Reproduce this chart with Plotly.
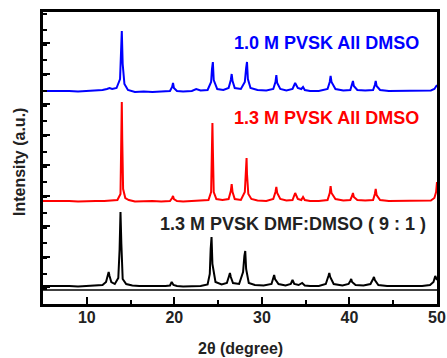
import plotly.graph_objects as go

# ---- data, y values are stacked intensities (a.u.) ----
blue_x = [5, 6, 7, 8, 9, 10, 11, 11.8, 12.3, 12.6, 12.9, 13.4, 13.8, 13.9, 14.0, 14.1, 14.3, 14.7,
          15.5, 16.5, 17.5, 18.5, 19.5, 19.75, 19.85, 19.95, 20.3, 21, 22, 22.5, 23, 23.8, 24.2,
          24.3, 24.4, 24.5, 24.9, 25.6, 26.2, 26.45, 26.55, 26.65, 26.9, 27.6, 28.05, 28.2, 28.3,
          28.4, 28.7, 29.5, 30.5, 31.3, 31.55, 31.65, 31.75, 32.1, 32.8, 33.5, 33.8, 34.1, 34.5,
          34.7, 34.9, 35.5, 36.5, 37.5, 37.75, 37.85, 37.95, 38.4, 39.3, 40.1, 40.3, 40.4, 40.5,
          40.9, 41.8, 42.7, 42.9, 43.0, 43.1, 43.5, 44.5, 45.5, 46.5, 47.5, 48.5, 49.3, 49.7, 50]
blue_y = [213, 213, 213.5, 213, 212.5, 213, 213, 214, 215, 216, 215, 216, 225, 245, 273, 240, 220, 214,
          212, 212.5, 212, 212.5, 213, 217, 221, 216, 213, 212.5, 213, 215, 213.5, 214, 222,
          235, 242, 224, 215, 214, 216, 224, 230, 223, 216, 215, 222, 236, 242,
          225, 216, 214, 213.5, 215, 222, 229, 221, 215, 213.5, 215, 221, 216, 215,
          217, 214, 213, 213, 215, 222, 228, 222, 215, 213.5, 214, 219, 223, 218,
          214, 213.5, 214, 219, 223, 218, 214, 213, 213, 213, 213.5, 213, 213.5, 215, 219]

red_x = [5, 6, 7, 8, 9, 10, 11, 12, 12.8, 13.5, 13.85, 13.95, 14.0, 14.05, 14.15, 14.4, 14.8,
         15.5, 16.5, 17.5, 18.5, 19.5, 19.75, 19.85, 19.95, 20.3, 21, 22, 23, 23.9, 24.2, 24.3,
         24.35, 24.4, 24.5, 24.8, 25.5, 26.2, 26.45, 26.55, 26.65, 26.9, 27.6, 28.05, 28.2, 28.25,
         28.3, 28.45, 28.8, 29.5, 30.5, 31.3, 31.55, 31.65, 31.75, 32.1, 32.8, 33.5, 33.8, 34.1,
         34.5, 34.7, 34.9, 35.5, 36.5, 37.5, 37.75, 37.85, 37.95, 38.4, 39.3, 40.1, 40.3, 40.4,
         40.5, 40.9, 41.8, 42.7, 42.9, 43.0, 43.1, 43.5, 44.5, 45.5, 46.5, 47.5, 48.5, 49.3,
         49.7, 49.9, 50]
red_y = [103, 103, 103.5, 103, 102.5, 103, 103, 103, 103.5, 104, 110, 160, 202, 165, 115, 106, 104,
         102.5, 103, 103, 102.5, 103, 106, 108, 105, 103, 102.5, 103, 103, 104, 112, 150,
         181, 155, 112, 105, 104, 105, 113, 120, 112, 105, 104, 112, 135, 146,
         130, 110, 105, 103.5, 103, 105, 112, 117, 111, 105, 103.5, 104, 111, 105,
         104, 107, 104, 103, 103, 104, 111, 118, 111, 105, 103.5, 104, 108, 111,
         107, 104, 103.5, 104, 110, 115, 109, 104, 103, 103, 103, 103, 103, 103.5,
         106, 112, 122]

black_x = [5, 6, 7, 8, 9, 10, 11, 11.8, 12.2, 12.4, 12.5, 12.6, 12.8, 13.2, 13.6, 13.75, 13.85,
           13.95, 14.1, 14.5, 15.2, 16, 17, 18, 19, 19.5, 19.7, 19.9, 20.3, 21, 22, 23, 23.8,
           24.05, 24.15, 24.25, 24.35, 24.7, 25.4, 26.0, 26.25, 26.35, 26.45, 26.7, 27.4, 27.85,
           28.0, 28.1, 28.2, 28.5, 29.2, 30.2, 31.1, 31.3, 31.4, 31.5, 31.9, 32.7, 33.3, 33.5,
           33.7, 34.2, 34.6, 34.9, 35.5, 36.5, 37.3, 37.6, 37.7, 37.8, 38.2, 39.2, 39.9, 40.1,
           40.2, 40.3, 40.7, 41.6, 42.4, 42.7, 42.8, 42.9, 43.3, 44.3, 45.3, 46.3, 47.3, 48.3,
           49.2, 49.6, 49.8, 50]
black_y = [18, 18, 18.5, 18, 17.5, 18, 18, 19, 22, 28, 32, 28, 22, 20, 26, 55, 92,
           60, 25, 20, 18.5, 18, 18, 17.5, 18, 18.5, 22, 19, 18, 17.5, 18, 18, 19.5,
           30, 55, 67, 40, 22, 19.5, 21, 28, 31, 27, 21, 20, 32,
           48, 53, 35, 21, 19, 18.5, 20, 27, 29, 25, 20, 18.5, 20, 24,
           20, 19, 21, 18.5, 18, 18, 20, 28, 31, 27, 20, 18.5, 20, 23,
           25, 22, 19, 18.5, 20, 25, 27, 24, 19, 18, 18, 18.5, 18, 18,
           19, 22, 28, 24]

divider_y = [14, 14]
x_range = [5, 50]

fig = go.Figure()
fig.add_trace(go.Scatter(x=x_range, y=divider_y, mode="lines",
                         line=dict(color="black", width=1.5), showlegend=False, hoverinfo="skip"))
fig.add_trace(go.Scatter(x=black_x, y=black_y, mode="lines",
                         line=dict(color="black", width=2), showlegend=False))
fig.add_trace(go.Scatter(x=red_x, y=red_y, mode="lines",
                         line=dict(color="#ff0000", width=2), showlegend=False))
fig.add_trace(go.Scatter(x=blue_x, y=blue_y, mode="lines",
                         line=dict(color="#0000ff", width=2), showlegend=False))

font_family = "Liberation Sans, Arial, sans-serif"

fig.add_annotation(x=37.4, y=261, text="<b>1.0 M PVSK All DMSO</b>", showarrow=False,
                   font=dict(family=font_family, size=18, color="#0000ff"))
fig.add_annotation(x=37.4, y=186, text="<b>1.3 M PVSK All DMSO</b>", showarrow=False,
                   font=dict(family=font_family, size=18, color="#ff0000"))
fig.add_annotation(x=33.5, y=80, text="<b>1.3 M PVSK DMF:DMSO ( 9 : 1 )</b>", showarrow=False,
                   font=dict(family=font_family, size=18, color="#222222"))

fig.add_annotation(xref="paper", yref="paper", x=0.5, y=-0.154, yanchor="middle",
                   text="<b>2θ (degree)</b>", showarrow=False,
                   font=dict(family=font_family, size=16, color="#222222"))
fig.add_annotation(xref="paper", yref="paper", x=-0.061, y=0.486, xanchor="center",
                   yanchor="middle",
                   text="<b>Intensity (a.u.)</b>", textangle=-90, showarrow=False,
                   font=dict(family=font_family, size=16, color="#222222"))

fig.update_xaxes(range=x_range, showline=True, mirror=True, linecolor="black", linewidth=2.5,
                 ticks="inside", ticklen=7, tickwidth=2, tickcolor="black", tick0=0, dtick=10,
                 minor=dict(ticks="inside", ticklen=4, tickwidth=2, tickcolor="black", dtick=5),
                 showgrid=False, zeroline=False, automargin=False, ticklabelstandoff=-3,
                 tickfont=dict(family=font_family, size=16, color="#222222"),
                 tickprefix="<b>", ticksuffix="</b>")
fig.update_yaxes(range=[0, 292], showline=True, mirror=True, linecolor="black", linewidth=2.5,
                 ticks="inside", ticklen=7, tickwidth=2, tickcolor="black", tick0=17, dtick=30.5,
                 minor=dict(ticks="inside", ticklen=4, tickwidth=2, tickcolor="black", dtick=15.25),
                 showticklabels=False, showgrid=False, zeroline=False, automargin=False)

fig.update_layout(width=447, height=358, margin=dict(l=43, r=10, t=12, b=54),
                  plot_bgcolor="white", paper_bgcolor="white")

fig.write_html("out.html", config={"displayModeBar": False},
               post_script="document.body.style.margin='0';")
